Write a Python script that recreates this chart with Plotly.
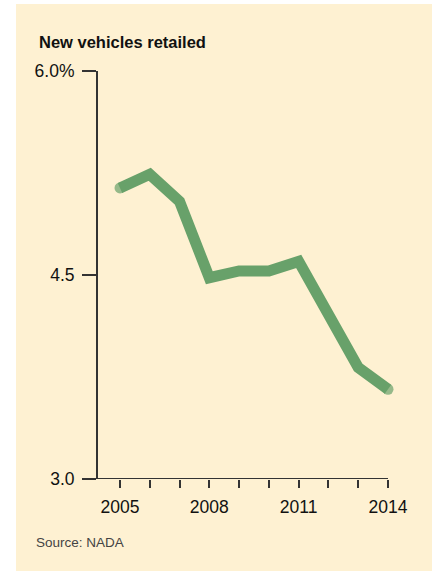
import plotly.graph_objects as go

# ---- data ----
years = [2005, 2006, 2007, 2008, 2009, 2010, 2011, 2012, 2013, 2014]
share = [5.14, 5.24, 5.04, 4.48, 4.53, 4.53, 4.60, 4.19, 3.82, 3.66]
y_tickvals = [3.0, 4.5, 6.0]
y_ticktext = ["3.0", "4.5", "6.0%"]
x_labelled = [2005, 2008, 2011, 2014]

title_text = "<b>New vehicles retailed</b>"
source_text = "Source: NADA"

# ---- style ----
W, H = 436, 571
ML, MR, MT, MB = 98, 16, 71, 92
PW, PH = W - ML - MR, H - MT - MB
X_RANGE = [2004.261, 2015.075]
Y_RANGE = [3.0, 6.0]
BEIGE = "#FEF1D2"
GREEN = "#68A16A"
AXIS = "#333333"
NARROW = "Liberation Sans Narrow, Liberation Sans, Arial, sans-serif"


def px_x(px):
    return (px - ML) / PW


def px_y(py):
    return (H - MB - py) / PH


fig = go.Figure()
fig.add_trace(go.Scatter(
    x=years, y=share, mode="lines+markers",
    line=dict(color=GREEN, width=11),
    marker=dict(color=GREEN, size=[11 if i in (0, len(years) - 1) else 0 for i in range(len(years))],
                line=dict(width=0)),
    cliponaxis=False, hoverinfo="skip", showlegend=False,
))

fig.update_layout(
    width=W, height=H,
    margin=dict(l=ML, r=MR, t=MT, b=MB, pad=0),
    paper_bgcolor="white", plot_bgcolor=BEIGE,
    shapes=[
        dict(type="rect", xref="paper", yref="paper", layer="below",
             x0=px_x(16), x1=px_x(432), y0=px_y(571), y1=px_y(4),
             fillcolor=BEIGE, line=dict(width=0)),
        dict(type="line", xref="x", yref="y", layer="above",
             x0=X_RANGE[0], x1=years[-1], y0=Y_RANGE[0], y1=Y_RANGE[0],
             line=dict(color=AXIS, width=2)),
    ],
    xaxis=dict(
        range=X_RANGE, showgrid=False, zeroline=False, showline=False,
        tickmode="array", tickvals=years,
        ticktext=[str(y) if y in x_labelled else "" for y in years],
        ticks="outside", ticklen=8, tickwidth=2, tickcolor=AXIS,
        tickfont=dict(family=NARROW, size=17.5, color="#111111"),
        ticklabelstandoff=4,
        fixedrange=True,
    ),
    yaxis=dict(
        range=Y_RANGE, showgrid=False, zeroline=False,
        showline=True, linecolor=AXIS, linewidth=2,
        tickmode="array", tickvals=y_tickvals, ticktext=y_ticktext,
        ticks="outside", ticklen=14, tickwidth=2, tickcolor=AXIS,
        tickfont=dict(family=NARROW, size=17.5, color="#111111"),
        ticklabelstandoff=4,
        fixedrange=True,
    ),
    annotations=[
        dict(text=title_text, xref="paper", yref="paper", x=px_x(37), y=px_y(31),
             xanchor="left", yanchor="top", showarrow=False,
             font=dict(family=NARROW, size=16.5, color="#111111")),
        dict(text=source_text, xref="paper", yref="paper", x=px_x(34), y=px_y(533),
             xanchor="left", yanchor="top", showarrow=False,
             font=dict(family="Liberation Sans, Arial, sans-serif", size=13.5, color="#444444")),
    ],
)

fig.write_html("out.html", config={"displayModeBar": False},
               post_script="document.body.style.margin='0';document.body.style.overflow='hidden';")
